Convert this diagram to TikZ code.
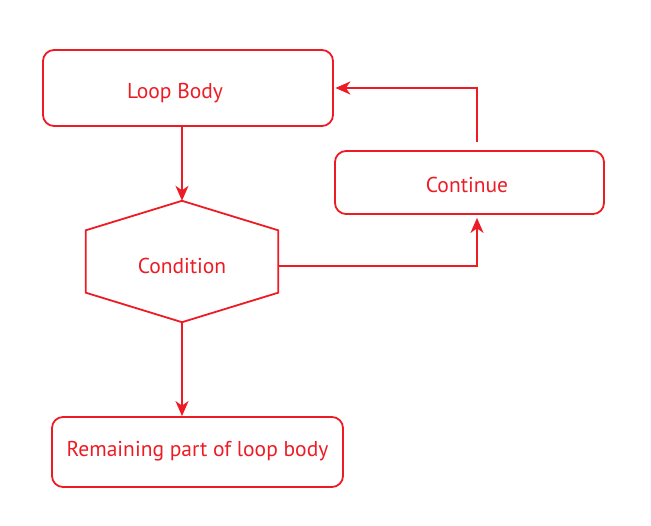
\documentclass[tikz,border=0pt]{standalone}
\usepackage{fontspec}
\setmainfont{PT Sans}
\usetikzlibrary{arrows.meta,calc}
\definecolor{fr}{HTML}{ED1C24}
\tikzset{
  box/.style={draw=fr, line width=1.8pt, rounded corners=11pt, inner sep=0pt},
  lbl/.style={text=fr, font=\fontsize{21.5}{25}\selectfont, inner sep=0pt},
  arr/.style={draw=fr, line width=1.8pt, -{Stealth[length=15pt,width=13pt,inset=4.5pt]}},
  ln/.style={draw=fr, line width=1.8pt}
}
\begin{document}
\begin{tikzpicture}[x=1pt,y=-1pt]
\useasboundingbox (0,0) rectangle (651,526);
% boxes
\node[box, minimum width=290pt, minimum height=76pt] (lb) at (188,88) {};
\node[lbl] (lbt) at (175,93.5) {Loop Body};
\node[box, minimum width=269pt, minimum height=63pt] (cont) at (469.5,182.5) {};
\node[lbl] (contt) at (467,184.5) {Continue};
\node[box, minimum width=291pt, minimum height=70pt] (rem) at (197.5,452) {};
\node[lbl] (remt) at (197.5,451.5) {Remaining part of loop body};
% hexagon
\node[inner sep=0pt, minimum width=192pt, minimum height=121pt] (cond) at (182,261.5) {};
\node[lbl] (condt) at (182,266) {Condition};
\draw[ln, line join=miter] (cond.north) -- ($(cond.north west)+(0,29.5)$) -- ($(cond.south west)+(0,-29.5)$)
  -- (cond.south) -- ($(cond.south east)+(0,-29.5)$) -- ($(cond.north east)+(0,29.5)$) -- cycle;
% connectors
\draw[arr] (lb.south -| cond.north) -- (cond.north);
\draw[arr] (cond.south) -- (cond.south |- rem.north);
\draw[arr] ([yshift=-4.5pt]cond.east) -| ([xshift=7.5pt,yshift=-3pt]cont.south);
\draw[arr] ([xshift=7.5pt,yshift=8pt]cont.north) |- ([xshift=1.5pt]lb.east);
\end{tikzpicture}
\end{document}
